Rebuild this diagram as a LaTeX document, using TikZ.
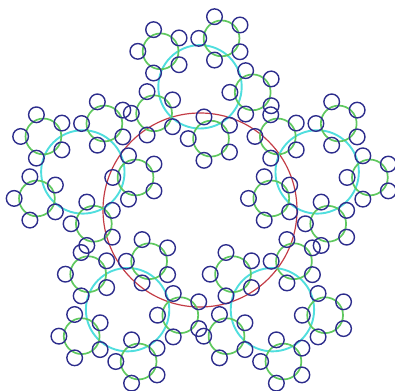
\documentclass[tikz,border=0pt]{standalone}
\usepackage[dvipsnames]{xcolor}

\definecolor{krug0}{RGB}{195,60,70}
\definecolor{krug1}{RGB}{80,222,222}
\definecolor{krug2}{RGB}{95,200,95}
\definecolor{krug3}{RGB}{45,45,140}

\begin{document}
\begin{tikzpicture}[x=1pt,y=1pt,
        ring0/.style={draw=krug0, line width=1.2pt},
        ring1/.style={draw=krug1, line width=1.9pt},
        ring2/.style={draw=krug2, line width=1.7pt},
        ring3/.style={draw=krug3, line width=1.4pt}]
        \useasboundingbox (-200,-180) rectangle (195,210);

        % Центральный круг
        \draw[ring0] (0,0) circle (97);

        % Пять кругов первого уровня
        \foreach \a in {90,162,234,306,378} {
            \begin{scope}[shift={(\a:123.2)}]
                \draw[ring1] (0,0) circle (41.7);
                % Второй уровень
                \foreach \b in {66,138,210,282,354} {
                    \begin{scope}[shift={(\b:53)}]
                        \draw[ring2] (0,0) circle (17.9);
                        % Третий уровень
                        \foreach \c in {36,108,180,252,324}
                            \draw[ring3] (\c:22.8) circle (7.8);
                    \end{scope}
                }
            \end{scope}
        }
    \end{tikzpicture}
\end{document}
